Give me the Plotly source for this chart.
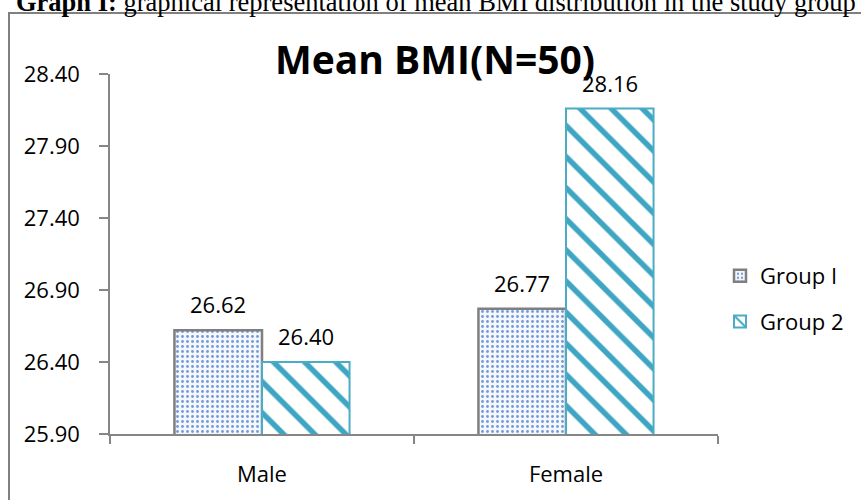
import plotly.graph_objects as go

categories = ["Male", "Female"]
group1_values = [26.62, 26.77]
group2_values = [26.40, 28.16]
series_names = ["Group I", "Group 2"]
y_ticks = [25.90, 26.40, 26.90, 27.40, 27.90, 28.40]

FONT = "Open Sans"
BARGAP = 0.424

fig = go.Figure()
fig.add_trace(go.Bar(
    x=categories, y=group1_values, name=series_names[0],
    marker=dict(color="white", line=dict(color="#7F7F7F", width=2.5),
                pattern=dict(shape=".", size=5, solidity=0.25, fgopacity=1,
                             fgcolor="#7399D8", bgcolor="#F4F7FC", fillmode="overlay")),
    legendgroup="g1",
))
fig.add_trace(go.Bar(
    x=categories, y=group2_values, name=series_names[1],
    marker=dict(color="white", line=dict(color="#4BACC6", width=2),
                pattern=dict(shape="\\", size=22, solidity=0.25, fgopacity=1,
                             fgcolor="#3EA6C2", bgcolor="white", fillmode="overlay")),
    legendgroup="g2",
))

# data labels
off = (1 - BARGAP) / 4
annotations = []
for i, (a, b) in enumerate(zip(group1_values, group2_values)):
    for val, dx in ((a, -off), (b, off)):
        annotations.append(dict(
            x=i + dx, y=val, xref="x", yref="y", text=f"{val:.2f}",
            showarrow=False, yanchor="middle", yshift=26,
            font=dict(family=FONT, size=22, color="black")))

# caption at very top (partly cut off)
annotations.append(dict(
    xref="paper", yref="paper", x=(14 - 110) / 608, y=(434 - 1.5) / 360,
    xanchor="left", yanchor="middle", showarrow=False,
    text="<b>Graph I:</b> graphical representation of mean BMI distribution in the study group",
    font=dict(family="Liberation Serif", size=26.5, color="black")))

fig.update_layout(
    width=861, height=500,
    margin=dict(l=110, r=143, t=74, b=66),
    paper_bgcolor="white", plot_bgcolor="white",
    barmode="group", bargap=BARGAP, bargroupgap=0,
    title=dict(text="<b>Mean BMI(N=50)</b>", x=435 / 861, xanchor="center",
               y=1 - 60 / 500, yanchor="middle",
               font=dict(family=FONT, size=39, color="black")),
    font=dict(family=FONT, size=22, color="black"),
    showlegend=True,
    legend=dict(x=(720 - 110) / 608, xanchor="left", y=(434 - 255) / 360, yanchor="top",
                traceorder="grouped", tracegroupgap=14,
                font=dict(family=FONT, size=22, color="black"),
                bgcolor="rgba(0,0,0,0)"),
    xaxis=dict(showline=True, linecolor="#868686", linewidth=1.5,
               ticks="outside", tickson="boundaries", ticklen=8, tickcolor="#868686",
               tickwidth=1.5, showgrid=False, ticklabelstandoff=20,
               tickfont=dict(family=FONT, size=22, color="black")),
    yaxis=dict(range=[25.90, 28.40], tickvals=y_ticks, tickformat=".2f",
               showline=True, linecolor="#868686", linewidth=1.5,
               ticks="outside", ticklen=9, tickcolor="#868686", tickwidth=1.5,
               showgrid=False, zeroline=False, ticklabelstandoff=15,
               tickfont=dict(family=FONT, size=22, color="black")),
    annotations=annotations,
    shapes=[dict(type="rect", xref="paper", yref="paper",
                 x0=(9 - 110) / 608, x1=2, y0=-1, y1=(434 - 13) / 360,
                 line=dict(color="#808080", width=2), fillcolor="rgba(0,0,0,0)",
                 layer="below")],
)

fig.write_html("out.html", config={"displayModeBar": False},
               post_script="document.body.style.margin='0';document.body.style.padding='0';")
